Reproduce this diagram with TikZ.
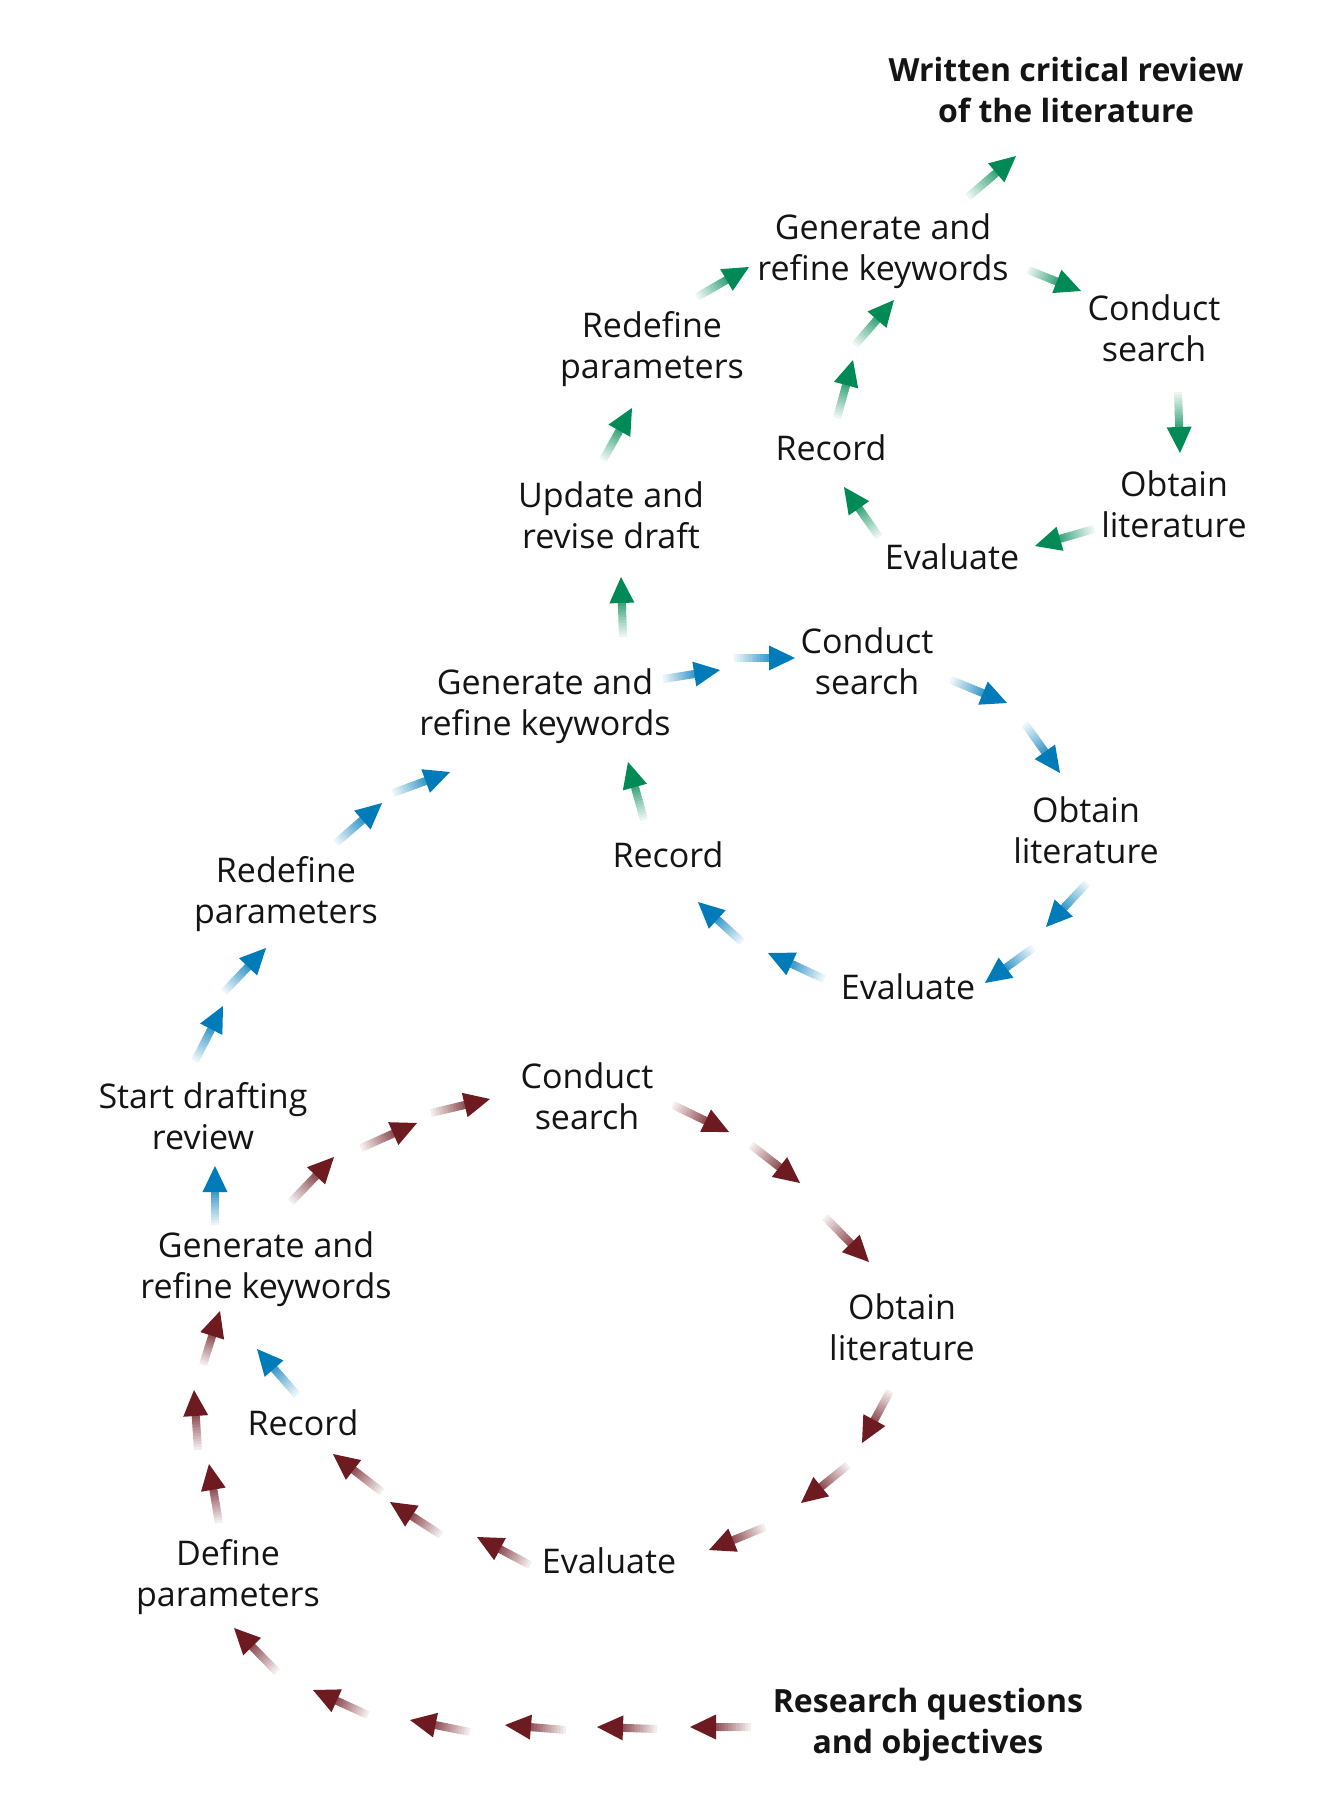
\documentclass[tikz,border=0pt]{standalone}
\usepackage{fontspec}
\setmainfont{Open Sans}
\usetikzlibrary{calc}
\definecolor{ink}{HTML}{141414}
\definecolor{loopred}{HTML}{6D1B21}
\definecolor{loopblue}{HTML}{007BB9}
\definecolor{loopgreen}{HTML}{008A55}

\begin{document}
\begin{tikzpicture}[x=0.5pt, y=-0.5pt,
    lbl/.style={align=center, inner sep=0pt, text=ink, font=\fontsize{17}{20.5}\selectfont},
    goal/.style={lbl, font=\fontsize{16}{20.5}\selectfont\bfseries}]
  \useasboundingbox (0,0) rectangle (1324,1818);

  % labels, from the top of the page down
  \node[goal] (written) at (1066, 90) {Written critical review\\of the literature};
  \node[lbl] (gen3) at (883, 251) {Generate and\\refine keywords};
  \node[lbl] (cond3) at (1154, 328) {Conduct\\search};
  \node[lbl] (redef2) at (652, 349) {Redefine\\parameters};
  \node[lbl] (rec3) at (831, 448) {Record};
  \node[lbl] (obt3) at (1174, 504) {Obtain\\literature};
  \node[lbl] (update) at (611, 515) {Update and\\revise draft};
  \node[lbl] (eval3) at (952, 557) {Evaluate};
  \node[lbl] (cond2) at (867, 661) {Conduct\\search};
  \node[lbl] (gen2) at (545, 706) {Generate and\\refine keywords};
  \node[lbl] (obt2) at (1086, 830) {Obtain\\literature};
  \node[lbl] (rec2) at (668, 855) {Record};
  \node[lbl] (redef1) at (286, 894) {Redefine\\parameters};
  \node[lbl] (eval2) at (908, 987) {Evaluate};
  \node[lbl] (cond1) at (587, 1096) {Conduct\\search};
  \node[lbl] (start) at (203, 1116) {Start drafting\\review};
  \node[lbl] (gen1) at (266, 1269) {Generate and\\refine keywords};
  \node[lbl] (obt1) at (902, 1327) {Obtain\\literature};
  \node[lbl] (rec1) at (303, 1423) {Record};
  \node[lbl] (eval1) at (609, 1561) {Evaluate};
  \node[lbl] (define) at (228, 1577) {Define\\parameters};
  \node[goal] (research) at (928, 1725) {Research questions\\and objectives};

  % fading arrows: colour / tail / tip
  \foreach \c/\xa/\ya/\xb/\yb in {
      loopred/751/1727/690/1727, loopred/657/1729/597/1727,
      loopred/566/1730/505/1725, loopred/470/1732/410/1720,
      loopred/368/1715/313/1690, loopred/277/1672/234/1628,
      loopred/219/1523/209/1464, loopred/198/1450/194/1390,
      loopred/203/1365/220/1311, loopred/291/1202/334/1157,
      loopred/361/1148/417/1123, loopred/431/1113/490/1099,
      loopred/673/1105/729/1132, loopred/751/1145/800/1183,
      loopred/825/1217/869/1262, loopred/890/1391/862/1443,
      loopred/848/1465/801/1503, loopred/765/1527/709/1550,
      loopred/530/1565/477/1537, loopred/441/1535/390/1502,
      loopred/382/1492/333/1454,
      loopblue/215/1225/215/1166, loopblue/297/1395/257/1349,
      loopblue/195/1061/223/1006, loopblue/224/992/266/948,
      loopblue/336/843/382/803, loopblue/393/793/450/772,
      loopblue/663/679/720/670, loopblue/734/658/795/658,
      loopblue/951/680/1007/703, loopblue/1025/724/1060/773,
      loopblue/1087/883/1046/927, loopblue/1033/948/985/983,
      loopblue/824/979/768/953, loopblue/742/942/698/902,
      loopgreen/644/820/628/762, loopgreen/623/637/621/577,
      loopgreen/603/460/632/408, loopgreen/697/297/749/267,
      loopgreen/1028/270/1081/291, loopgreen/1178/392/1180/453,
      loopgreen/1094/529/1035/546, loopgreen/879/537/844/487,
      loopgreen/837/418/853/360, loopgreen/855/345/894/300,
      loopgreen/968/197/1016/156} {
    \coordinate (t) at (\xa, \ya);
    \coordinate (h) at (\xb, \yb);
    \coordinate (b) at ($(h)!13pt!(t)$);
    \foreach \k in {0,...,11} {
      \pgfmathtruncatemacro\pct{8+6*\k}
      \pgfmathsetmacro\fa{\k/12}
      \pgfmathsetmacro\fb{(\k+1.2)/12}
      \draw[line width=4pt, color=\c!\pct!white] ($(t)!\fa!(b)$) -- ($(t)!\fb!(b)$);
    }
    \fill[\c] (h) -- ($(b)!6.25pt!90:(h)$) -- ($(b)!6.25pt!-90:(h)$) -- cycle;
  }
\end{tikzpicture}
\end{document}
